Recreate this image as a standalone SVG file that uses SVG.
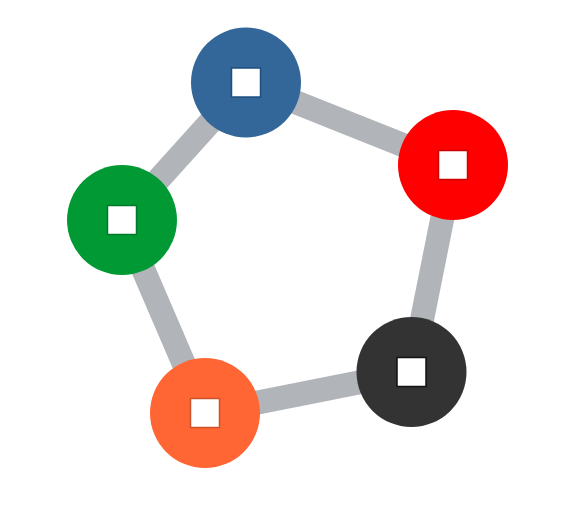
<svg xmlns="http://www.w3.org/2000/svg" width="567" height="519" viewBox="0 0 567 519">
<style>
.edge{stroke:#b1b4b9;stroke-width:24;fill:none}
.sq{fill:#ffffff;stroke-width:1.5}
</style>
<rect width="567" height="519" fill="#ffffff"/>
<g id="connectors">
<line class="edge" x1="246" y1="82.5" x2="453" y2="165"/>
<line class="edge" x1="453" y1="165" x2="411.5" y2="372"/>
<line class="edge" x1="411.5" y1="372" x2="205" y2="413"/>
<line class="edge" x1="205" y1="413" x2="122" y2="220"/>
<line class="edge" x1="122" y1="220" x2="246" y2="82.5"/>
</g>
<g id="node-blue">
<circle cx="246" cy="82.5" r="55" fill="#336699"/>
<rect class="sq" x="231.5" y="68" width="29" height="29" stroke="#1f4f80"/>
</g>
<g id="node-red">
<circle cx="453" cy="165" r="55" fill="#ff0000"/>
<rect class="sq" x="438.5" y="150.5" width="29" height="29" stroke="#cc0000"/>
</g>
<g id="node-green">
<circle cx="122" cy="220" r="55" fill="#009933"/>
<rect class="sq" x="107.5" y="205.5" width="29" height="29" stroke="#007a29"/>
</g>
<g id="node-dark">
<circle cx="411.5" cy="372" r="55" fill="#333333"/>
<rect class="sq" x="397" y="357.5" width="29" height="29" stroke="#111111"/>
</g>
<g id="node-orange">
<circle cx="205" cy="413" r="55" fill="#ff6633"/>
<rect class="sq" x="190.5" y="398.5" width="29" height="29" stroke="#cc5229"/>
</g>
</svg>
